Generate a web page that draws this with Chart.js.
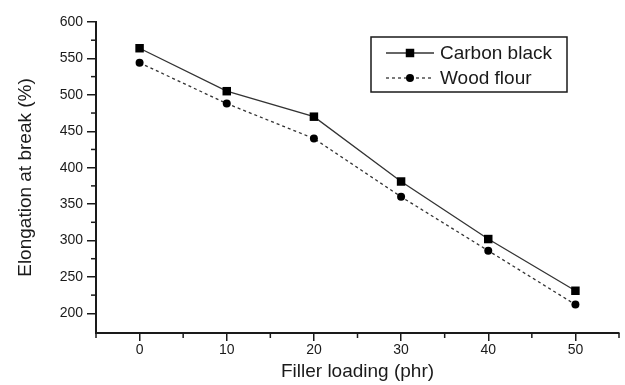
<!DOCTYPE html>
<html>
<head>
<meta charset="utf-8">
<script src="https://cdn.jsdelivr.net/npm/chart.js@4/dist/chart.umd.min.js"></script>
<style>
  html, body { margin: 0; padding: 0; background: #fff; }
  #wrap { width: 625px; height: 385px; }
</style>
</head>
<body>
<div id="wrap"><canvas id="c"></canvas></div>
<script>
// filler loading (phr)
const loading = [0, 10, 20, 30, 40, 50];
// elongation at break (%)
const carbonBlack = [564, 505, 470, 381, 302, 231];
const woodFlour = [544, 488, 440, 360, 286, 212];

const xTicks = [0, 10, 20, 30, 40, 50];
const yTicks = [200, 250, 300, 350, 400, 450, 500, 550, 600];
const xMinor = [-5, 5, 15, 25, 35, 45, 55];
const yMinor = [225, 275, 325, 375, 425, 475, 525, 575];

const FONT = 'Liberation Sans, Arial, sans-serif';
const INK = '#1a1a1a';

// short unlabelled ticks between the major ones
const minorTicks = {
    id: 'minorTicks',
    afterDraw(chart) {
        const { ctx, scales: { x, y } } = chart;
        ctx.save();
        ctx.strokeStyle = INK;
        ctx.lineWidth = 1.5;
        xMinor.forEach(v => {
            const px = x.getPixelForValue(v);
            ctx.beginPath(); ctx.moveTo(px, x.top); ctx.lineTo(px, x.top + 5); ctx.stroke();
        });
        yMinor.forEach(v => {
            const py = y.getPixelForValue(v);
            ctx.beginPath(); ctx.moveTo(y.right, py); ctx.lineTo(y.right - 5, py); ctx.stroke();
        });
        ctx.restore();
    }
};

// boxed legend with line + marker samples
const boxLegend = {
    id: 'boxLegend',
    afterDraw(chart) {
        const { ctx } = chart;
        const bx = 371, by = 37, bw = 196, bh = 55;
        ctx.save();
        ctx.strokeStyle = INK;
        ctx.lineWidth = 1.5;
        ctx.strokeRect(bx, by, bw, bh);
        chart.data.datasets.forEach((ds, i) => {
            const cy = by + 16 + i * 25;
            ctx.strokeStyle = ds.borderColor;
            ctx.lineWidth = ds.borderWidth;
            ctx.setLineDash(ds.borderDash || []);
            ctx.beginPath(); ctx.moveTo(bx + 15, cy); ctx.lineTo(bx + 63, cy); ctx.stroke();
            ctx.setLineDash([]);
            ctx.fillStyle = '#000';
            const cx = bx + 39;
            ctx.beginPath();
            if (ds.pointStyle === 'rect') {
                const s = ds.pointRadius * Math.SQRT1_2;
                ctx.rect(cx - s, cy - s, 2 * s, 2 * s);
            } else {
                ctx.arc(cx, cy, ds.pointRadius, 0, Math.PI * 2);
            }
            ctx.fill();
            ctx.fillStyle = INK;
            ctx.font = '19px ' + FONT;
            ctx.textBaseline = 'middle';
            ctx.textAlign = 'left';
            ctx.fillText(ds.label, bx + 69, cy + 1);
        });
        ctx.restore();
    }
};

new Chart(document.getElementById('c'), {
    type: 'line',
    data: {
        datasets: [
            {
                label: 'Carbon black',
                data: loading.map((v, i) => ({ x: v, y: carbonBlack[i] })),
                borderColor: '#333', borderWidth: 1.3,
                pointStyle: 'rect', pointRadius: 6, pointBackgroundColor: '#000', pointBorderWidth: 0,
                tension: 0
            },
            {
                label: 'Wood flour',
                data: loading.map((v, i) => ({ x: v, y: woodFlour[i] })),
                borderColor: '#333', borderWidth: 1.3, borderDash: [3, 3],
                pointStyle: 'circle', pointRadius: 4, pointBackgroundColor: '#000', pointBorderWidth: 0,
                tension: 0
            }
        ]
    },
    options: {
        responsive: true, maintainAspectRatio: false, animation: false,
        layout: { padding: { left: 0, right: 5, top: 22, bottom: 0 } },
        plugins: { legend: { display: false }, tooltip: { enabled: false } },
        scales: {
            x: {
                type: 'linear', min: -5, max: 55,
                afterBuildTicks: s => { s.ticks = xTicks.map(v => ({ value: v })); },
                afterFit: s => { s.height = 52; },
                border: { color: INK, width: 2 },
                grid: { drawOnChartArea: false, tickLength: 8, color: INK, lineWidth: 1.5 },
                ticks: { padding: 1, color: INK, font: { family: FONT, size: 14 } },
                title: { display: true, text: 'Filler loading (phr)', color: INK, font: { family: FONT, size: 19 }, padding: { top: 0, bottom: 2 } }
            },
            y: {
                type: 'linear', min: 173, max: 600,
                afterBuildTicks: s => { s.ticks = yTicks.map(v => ({ value: v })); },
                afterFit: s => { s.width = 96; },
                border: { color: INK, width: 2 },
                grid: { drawOnChartArea: false, tickLength: 9, color: INK, lineWidth: 1.5 },
                ticks: { padding: 4, color: INK, font: { family: FONT, size: 14 } },
                title: { display: true, text: 'Elongation at break (%)', color: INK, font: { family: FONT, size: 19 }, padding: { top: 14, bottom: 0 } }
            }
        }
    },
    plugins: [minorTicks, boxLegend]
});
</script>
</body>
</html>
